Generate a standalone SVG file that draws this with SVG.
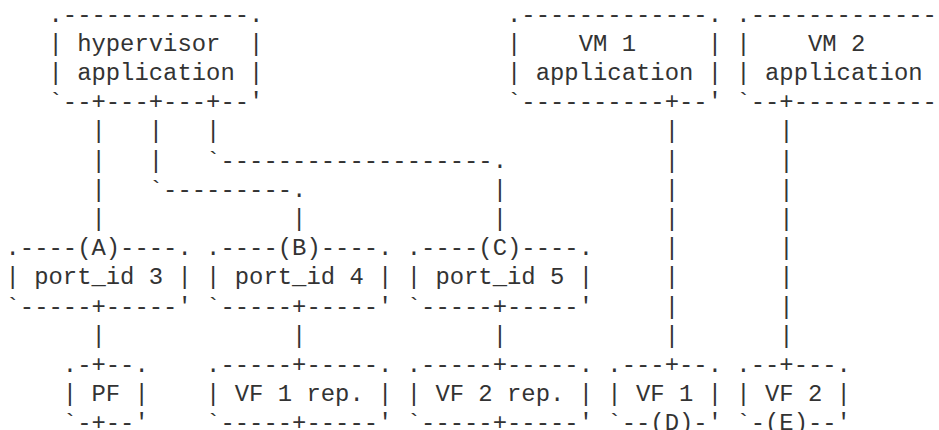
<svg xmlns="http://www.w3.org/2000/svg" width="939" height="430" viewBox="0 0 939 430" xml:space="preserve">
<style>
text { font-family: "Liberation Mono", "DejaVu Sans Mono", monospace; font-size: 23.883px; fill: #333333; white-space: pre; }
</style>
<rect width="939" height="430" fill="#ffffff"/>
<g id="connectors">
<text x="91.48"><tspan x="91.48" y="138.3">|</tspan><tspan x="91.48" y="167.5">|</tspan><tspan x="91.48" y="196.7">|</tspan><tspan x="91.48" y="225.9">|</tspan><tspan x="91.48" y="342.7">|</tspan></text>
<text x="148.8"><tspan x="148.8" y="138.3">|</tspan><tspan x="148.8" y="167.5">|</tspan><tspan x="148.8" y="196.7">`---------.</tspan></text>
<text x="206.12"><tspan x="206.12" y="138.3">|</tspan><tspan x="206.12" y="167.5">`-------------------.</tspan></text>
<text x="292.1"><tspan x="292.1" y="225.9">|</tspan><tspan x="292.1" y="342.7">|</tspan></text>
<text x="492.72"><tspan x="492.72" y="196.7">|</tspan><tspan x="492.72" y="225.9">|</tspan><tspan x="492.72" y="342.7">|</tspan></text>
<text x="664.68"><tspan x="664.68" y="138.3">|</tspan><tspan x="664.68" y="167.5">|</tspan><tspan x="664.68" y="196.7">|</tspan><tspan x="664.68" y="225.9">|</tspan><tspan x="664.68" y="255.1">|</tspan><tspan x="664.68" y="284.3">|</tspan><tspan x="664.68" y="313.5">|</tspan><tspan x="664.68" y="342.7">|</tspan></text>
<text x="779.32"><tspan x="779.32" y="138.3">|</tspan><tspan x="779.32" y="167.5">|</tspan><tspan x="779.32" y="196.7">|</tspan><tspan x="779.32" y="225.9">|</tspan><tspan x="779.32" y="255.1">|</tspan><tspan x="779.32" y="284.3">|</tspan><tspan x="779.32" y="313.5">|</tspan><tspan x="779.32" y="342.7">|</tspan></text>
</g>
<g id="hypervisor-application">
<text><tspan x="48.49" y="21.5">.-------------.</tspan><tspan x="48.49" y="50.7">| hypervisor  |</tspan><tspan x="48.49" y="79.9">| application |</tspan><tspan x="48.49" y="109.1">`--+---+---+--'</tspan></text>
</g>
<g id="vm1-application">
<text><tspan x="507.05" y="21.5">.-------------.</tspan><tspan x="507.05" y="50.7">|    VM 1     |</tspan><tspan x="507.05" y="79.9">| application |</tspan><tspan x="507.05" y="109.1">`----------+--'</tspan></text>
</g>
<g id="vm2-application">
<text><tspan x="736.33" y="21.5">.-------------</tspan><tspan x="736.33" y="50.7">|    VM 2     </tspan><tspan x="736.33" y="79.9">| application </tspan><tspan x="736.33" y="109.1">`--+----------</tspan></text>
</g>
<g id="port3">
<text><tspan x="5.5" y="255.1">.----(A)----.</tspan><tspan x="5.5" y="284.3">| port_id 3 |</tspan><tspan x="5.5" y="313.5">`-----+-----'</tspan></text>
</g>
<g id="port4">
<text><tspan x="206.12" y="255.1">.----(B)----.</tspan><tspan x="206.12" y="284.3">| port_id 4 |</tspan><tspan x="206.12" y="313.5">`-----+-----'</tspan></text>
</g>
<g id="port5">
<text><tspan x="406.74" y="255.1">.----(C)----.</tspan><tspan x="406.74" y="284.3">| port_id 5 |</tspan><tspan x="406.74" y="313.5">`-----+-----'</tspan></text>
</g>
<g id="pf">
<text><tspan x="62.82" y="371.9">.-+--.</tspan><tspan x="62.82" y="401.1">| PF |</tspan><tspan x="62.82" y="430.3">`-+--'</tspan></text>
</g>
<g id="vf1-rep">
<text><tspan x="206.12" y="371.9">.-----+-----.</tspan><tspan x="206.12" y="401.1">| VF 1 rep. |</tspan><tspan x="206.12" y="430.3">`-----+-----'</tspan></text>
</g>
<g id="vf2-rep">
<text><tspan x="406.74" y="371.9">.-----+-----.</tspan><tspan x="406.74" y="401.1">| VF 2 rep. |</tspan><tspan x="406.74" y="430.3">`-----+-----'</tspan></text>
</g>
<g id="vf1">
<text><tspan x="607.36" y="371.9">.---+--.</tspan><tspan x="607.36" y="401.1">| VF 1 |</tspan><tspan x="607.36" y="430.3">`--(D)-'</tspan></text>
</g>
<g id="vf2">
<text><tspan x="736.33" y="371.9">.--+---.</tspan><tspan x="736.33" y="401.1">| VF 2 |</tspan><tspan x="736.33" y="430.3">`-(E)--'</tspan></text>
</g>
</svg>
